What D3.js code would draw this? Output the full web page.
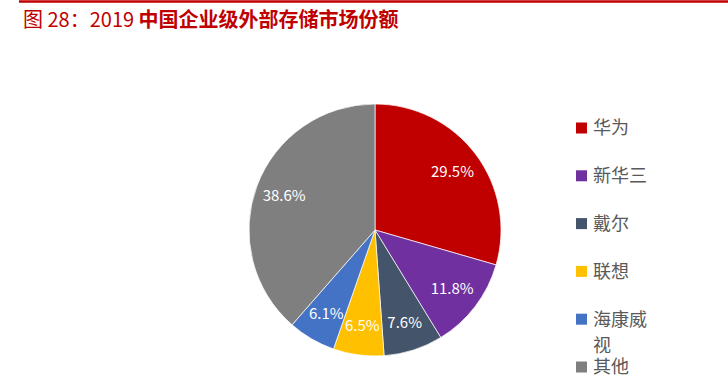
<!DOCTYPE html>
<html>
<head>
<meta charset="utf-8">
<script src="https://cdn.jsdelivr.net/npm/d3@7"></script>
<style>
  body { margin: 0; background: #fff; }
  svg { display: block; font-family: "Noto Sans CJK SC", "Noto Sans", sans-serif; }
</style>
</head>
<body>
<script>
const companies = ["华为", "新华三", "戴尔", "联想", "海康威视", "其他"];
const shares = [29.5, 11.8, 7.6, 6.5, 6.1, 38.6];
const colors = ["#C00000", "#7030A0", "#44546A", "#FFC000", "#4472C4", "#7F7F7F"];
// legend text as drawn (wrapped lines)
const legendLines = [["华为"], ["新华三"], ["戴尔"], ["联想"], ["海康威", "视"], ["其他"]];

const width = 728, height = 384;
const cx = 375, cy = 230, radius = 126;

const svg = d3.select("body").append("svg")
    .attr("width", width)
    .attr("height", height);

// top red rule + title
svg.append("line")
    .attr("x1", 19).attr("x2", 728)
    .attr("y1", 1.5).attr("y2", 1.5)
    .attr("stroke", "#C00000")
    .attr("stroke-width", 2.5);

const title = svg.append("text")
    .attr("x", 23).attr("y", 27)
    .attr("fill", "#C00000")
    .attr("font-size", 20);
title.append("tspan").text("图 28：2019 ");
title.append("tspan").attr("font-weight", "bold").text("中国企业级外部存储市场份额");

const data = companies.map((c, i) => ({ name: c, value: shares[i], color: colors[i] }));

const pie = d3.pie().value(d => d.value).sort(null);
const arc = d3.arc().innerRadius(0).outerRadius(radius);
const labelArc = d3.arc().innerRadius(97).outerRadius(97);

const g = svg.append("g").attr("transform", `translate(${cx},${cy})`);
const arcs = pie(data);

g.selectAll("path")
    .data(arcs)
    .enter().append("path")
    .attr("d", arc)
    .attr("fill", d => d.data.color)
    .attr("stroke", "#fff")
    .attr("stroke-width", 0.7);

g.selectAll(".lbl")
    .data(arcs)
    .enter().append("text")
    .attr("class", "lbl")
    .attr("transform", d => `translate(${labelArc.centroid(d)})`)
    .attr("text-anchor", "middle")
    .attr("dy", "0.35em")
    .attr("fill", "#fff")
    .attr("font-size", 15)
    .text(d => d.data.value.toFixed(1) + "%");

// legend
const legendY = d3.scalePoint().domain(companies).range([128, 367]);
const legend = svg.selectAll(".legend")
    .data(data)
    .enter().append("g")
    .attr("class", "legend")
    .attr("transform", d => `translate(576,${legendY(d.name)})`);

legend.append("rect")
    .attr("x", 0).attr("y", -5.5)
    .attr("width", 11).attr("height", 11)
    .attr("fill", d => d.color);

legend.append("text")
    .attr("x", 17)
    .attr("fill", "#595959")
    .attr("font-size", 18)
    .each(function (d, i) {
        d3.select(this).selectAll("tspan")
            .data(legendLines[i])
            .enter().append("tspan")
            .attr("x", 17)
            .attr("y", (t, j) => j * 27)
            .attr("dy", "0.35em")
            .text(t => t);
    });
</script>
</body>
</html>
